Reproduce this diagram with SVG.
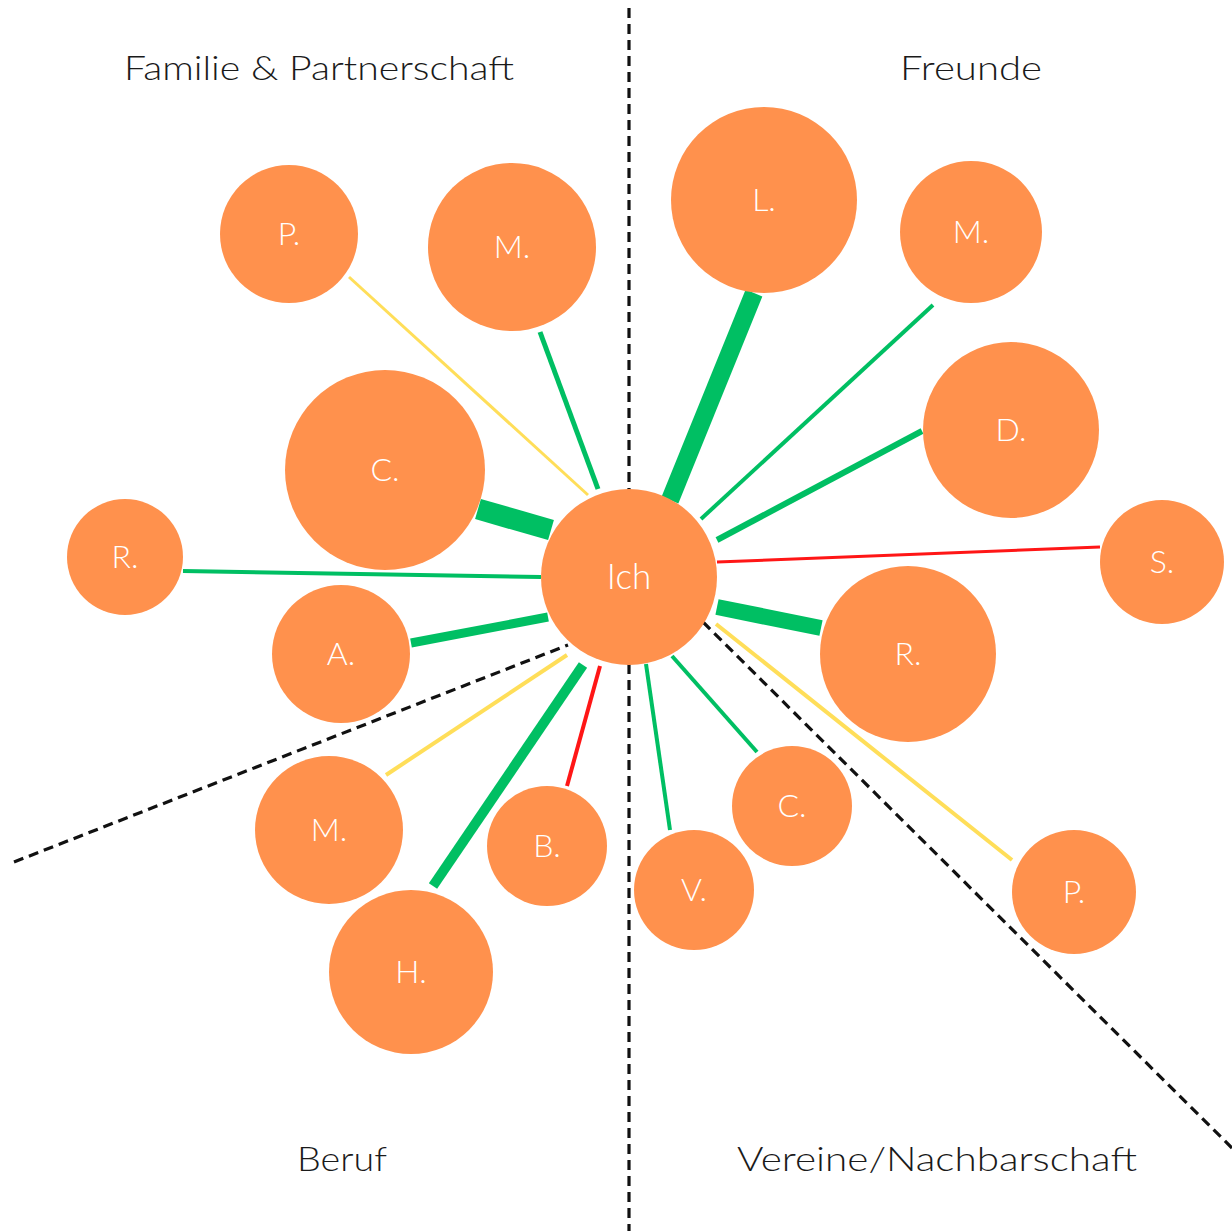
<svg xmlns="http://www.w3.org/2000/svg" width="1232" height="1231" viewBox="0 0 1232 1231">
<style>
.bg{fill:#ffffff}
.node circle{fill:#FF914D}
.node text{fill:#ffffff;font-family:Lato,"Open Sans",sans-serif;font-weight:300;font-size:32px;text-anchor:middle}
.head{fill:#1a1a1a;font-family:Lato,"Open Sans",sans-serif;font-weight:300;font-size:34px;text-anchor:middle}
.div{stroke:#111;stroke-width:3.2;stroke-dasharray:10 6;fill:none}
.g{stroke:#00BF63}
.y{stroke:#FFDE59}
.r{stroke:#FF1616}
</style>
<rect class="bg" x="0" y="0" width="1232" height="1231"/>
<g id="dividers">
<line class="div" x1="629" y1="8" x2="629" y2="1231"/>
<line class="div" x1="14" y1="862" x2="568" y2="645"/>
<line class="div" x1="703" y1="622" x2="1232" y2="1148"/>
</g>
<g id="connectors" stroke-linecap="butt">
<line class="y" x1="349" y1="277" x2="588" y2="495" stroke-width="3"/>
<line class="g" x1="540" y1="332" x2="598" y2="489" stroke-width="5"/>
<line class="g" x1="478" y1="509" x2="551" y2="530" stroke-width="21"/>
<line class="g" x1="183" y1="571" x2="541" y2="577" stroke-width="4"/>
<line class="g" x1="411" y1="643" x2="548" y2="617" stroke-width="9"/>
<line class="g" x1="754" y1="293" x2="670" y2="500" stroke-width="18"/>
<line class="g" x1="933" y1="305" x2="701" y2="519" stroke-width="4"/>
<line class="g" x1="922" y1="431" x2="717" y2="540" stroke-width="6"/>
<line class="r" x1="1100" y1="547" x2="717" y2="562" stroke-width="3"/>
<line class="g" x1="821" y1="628" x2="717" y2="607" stroke-width="16"/>
<line class="y" x1="1012" y1="860" x2="716" y2="624" stroke-width="4"/>
<line class="g" x1="757" y1="752" x2="672" y2="656" stroke-width="4"/>
<line class="g" x1="670" y1="830" x2="646" y2="664" stroke-width="4"/>
<line class="r" x1="567" y1="786" x2="600" y2="666" stroke-width="4"/>
<line class="g" x1="433" y1="886" x2="583" y2="665" stroke-width="10"/>
<line class="y" x1="386" y1="775" x2="567" y2="655" stroke-width="4"/>
</g>
<g id="headings">
<text class="head" x="319" y="80" textLength="390" lengthAdjust="spacingAndGlyphs">Familie &amp; Partnerschaft</text>
<text class="head" x="971" y="80" textLength="142" lengthAdjust="spacingAndGlyphs">Freunde</text>
<text class="head" x="342" y="1171" textLength="90" lengthAdjust="spacingAndGlyphs">Beruf</text>
<text class="head" x="937" y="1171" textLength="400" lengthAdjust="spacingAndGlyphs">Vereine/Nachbarschaft</text>
</g>
<g id="n-ich" class="node"><circle cx="629" cy="577" r="88"/><text x="629" y="589" style="font-size:35px">Ich</text></g>
<g id="n-fam-p" class="node"><circle cx="289" cy="234" r="69"/><text x="289" y="245">P.</text></g>
<g id="n-fam-m" class="node"><circle cx="512" cy="247" r="84"/><text x="512" y="258">M.</text></g>
<g id="n-fam-c" class="node"><circle cx="385" cy="470" r="100"/><text x="385" y="481">C.</text></g>
<g id="n-fam-r" class="node"><circle cx="125" cy="557" r="58"/><text x="125" y="568">R.</text></g>
<g id="n-fam-a" class="node"><circle cx="341" cy="654" r="69"/><text x="341" y="665">A.</text></g>
<g id="n-fr-l" class="node"><circle cx="764" cy="200" r="93"/><text x="764" y="211">L.</text></g>
<g id="n-fr-m" class="node"><circle cx="971" cy="232" r="71"/><text x="971" y="243">M.</text></g>
<g id="n-fr-d" class="node"><circle cx="1011" cy="430" r="88"/><text x="1011" y="441">D.</text></g>
<g id="n-fr-s" class="node"><circle cx="1162" cy="562" r="62"/><text x="1162" y="573">S.</text></g>
<g id="n-fr-r" class="node"><circle cx="908" cy="654" r="88"/><text x="908" y="665">R.</text></g>
<g id="n-be-m" class="node"><circle cx="329" cy="830" r="74"/><text x="329" y="841">M.</text></g>
<g id="n-be-b" class="node"><circle cx="547" cy="846" r="60"/><text x="547" y="857">B.</text></g>
<g id="n-be-h" class="node"><circle cx="411" cy="972" r="82"/><text x="411" y="983">H.</text></g>
<g id="n-ve-v" class="node"><circle cx="694" cy="890" r="60"/><text x="694" y="901">V.</text></g>
<g id="n-ve-c" class="node"><circle cx="792" cy="806" r="60"/><text x="792" y="817">C.</text></g>
<g id="n-ve-p" class="node"><circle cx="1074" cy="892" r="62"/><text x="1074" y="903">P.</text></g>
</svg>
